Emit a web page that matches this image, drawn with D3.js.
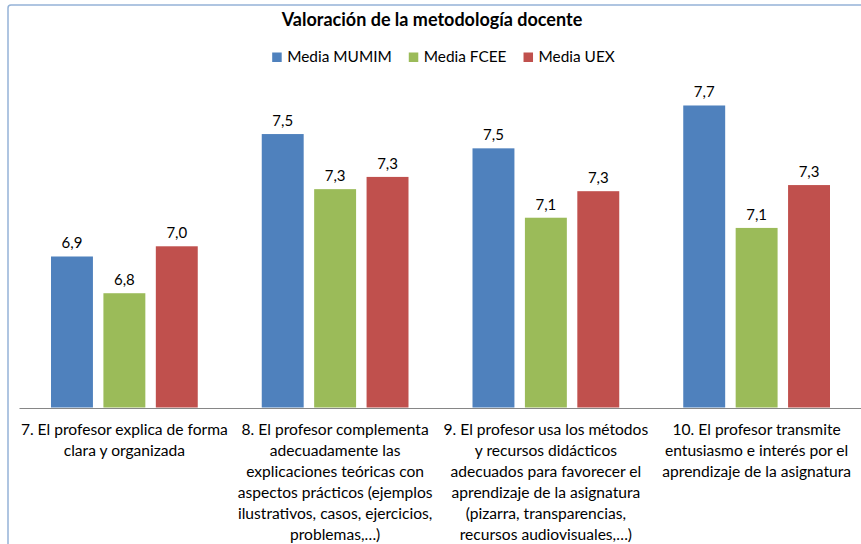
<!DOCTYPE html>
<html>
<head>
<meta charset="utf-8">
<script src="https://cdn.jsdelivr.net/npm/d3@7"></script>
<style>
  body { margin: 0; background: #fff; }
  svg { display: block; }
  text { font-family: Lato, "Open Sans", "Noto Sans", sans-serif; fill: #000; }
</style>
</head>
<body>
<svg id="chart" width="861" height="544"></svg>
<script>
// Chart data
const chartTitle = "Valoración de la metodología docente";
const seriesNames = ["Media MUMIM", "Media FCEE", "Media UEX"];
const seriesColors = ["#4F81BD", "#9BBB59", "#C0504D"];
const categoryLines = [
  ["7. El profesor explica de forma", "clara y organizada"],
  ["8. El profesor complementa", "adecuadamente las", "explicaciones teóricas con",
   "aspectos prácticos (ejemplos", "ilustrativos, casos, ejercicios,", "problemas,…)"],
  ["9. El profesor usa los métodos", "y recursos didácticos", "adecuados para favorecer el",
   "aprendizaje de la asignatura", "(pizarra, transparencias,", "recursos audiovisuales,…)"],
  ["10. El profesor transmite", "entusiasmo e interés por el", "aprendizaje de la asignatura"]
];
const mediaMUMIM = [6.94, 7.54, 7.47, 7.68];
const mediaFCEE  = [6.76, 7.27, 7.13, 7.08];
const mediaUEX   = [6.99, 7.33, 7.26, 7.29];
const valueDomain = [6.2, 7.8];

const seriesValues = [mediaMUMIM, mediaFCEE, mediaUEX];
const rows = categoryLines.map((lines, i) => ({
  i, lines, values: seriesValues.map((vals, s) => ({ s, v: vals[i] }))
}));

const svg = d3.select("#chart");
const fmt = v => d3.format(".1f")(v).replace(".", ",");

// Chart frame
svg.append("rect")
  .attr("x", 8).attr("y", 5)
  .attr("width", 900).attr("height", 600)
  .attr("rx", 3)
  .attr("fill", "#fff")
  .attr("stroke", "#95B3D7")
  .attr("stroke-width", 1.5);

// Scales
const x0 = d3.scaleBand().domain(d3.range(categoryLines.length)).range([19, 862]);
const x1 = d3.scaleBand().domain(d3.range(seriesNames.length))
  .range([32, x0.bandwidth() - 32]).paddingInner(0.2);
const y = d3.scaleLinear().domain(valueDomain).range([407.5, 81]);

// Bars
const groups = svg.append("g").selectAll("g").data(rows).join("g")
  .attr("transform", d => `translate(${x0(d.i)},0)`);

groups.selectAll("rect").data(d => d.values).join("rect")
  .attr("x", d => x1(d.s))
  .attr("y", d => y(d.v))
  .attr("width", x1.bandwidth())
  .attr("height", d => y(valueDomain[0]) - y(d.v))
  .attr("fill", d => seriesColors[d.s]);

groups.selectAll("text.val").data(d => d.values).join("text")
  .attr("class", "val")
  .attr("x", d => x1(d.s) + x1.bandwidth() / 2)
  .attr("y", d => y(d.v) - 8)
  .attr("text-anchor", "middle")
  .style("font-size", "15px")
  .text(d => fmt(d.v));

// Category axis
const xAxis = d3.axisBottom(x0).tickSize(0).tickFormat("");
const axisG = svg.append("g").attr("transform", "translate(0,408)").call(xAxis);
axisG.select(".domain").attr("stroke", "#868686").attr("stroke-width", 1.2);

const labelG = svg.append("g").selectAll("text").data(rows).join("text")
  .attr("text-anchor", "middle")
  .style("font-size", "15.6px")
  .attr("transform", d => `translate(${x0(d.i) + x0.bandwidth() / 2},435)`);
labelG.selectAll("tspan").data(d => d.lines).join("tspan")
  .attr("x", 0)
  .attr("y", (d, j) => j * 21)
  .text(d => d);

// Title
svg.append("text")
  .attr("x", 432).attr("y", 26)
  .attr("text-anchor", "middle")
  .style("font-size", "18px")
  .style("font-weight", "bold")
  .text(chartTitle);

// Legend
const legend = svg.append("g");
let cursor = 0;
seriesNames.forEach((name, s) => {
  const item = legend.append("g").attr("transform", `translate(${cursor},0)`);
  item.append("rect").attr("x", 0).attr("y", 52.5).attr("width", 9.5).attr("height", 9.5)
    .attr("fill", seriesColors[s]);
  const t = item.append("text").attr("x", 15).attr("y", 62)
    .style("font-size", "15.4px").text(name);
  cursor += 15 + t.node().getComputedTextLength() + 17;
});
const legendWidth = cursor - 17;
legend.attr("transform", `translate(${443.5 - legendWidth / 2},0)`);
</script>
</body>
</html>
